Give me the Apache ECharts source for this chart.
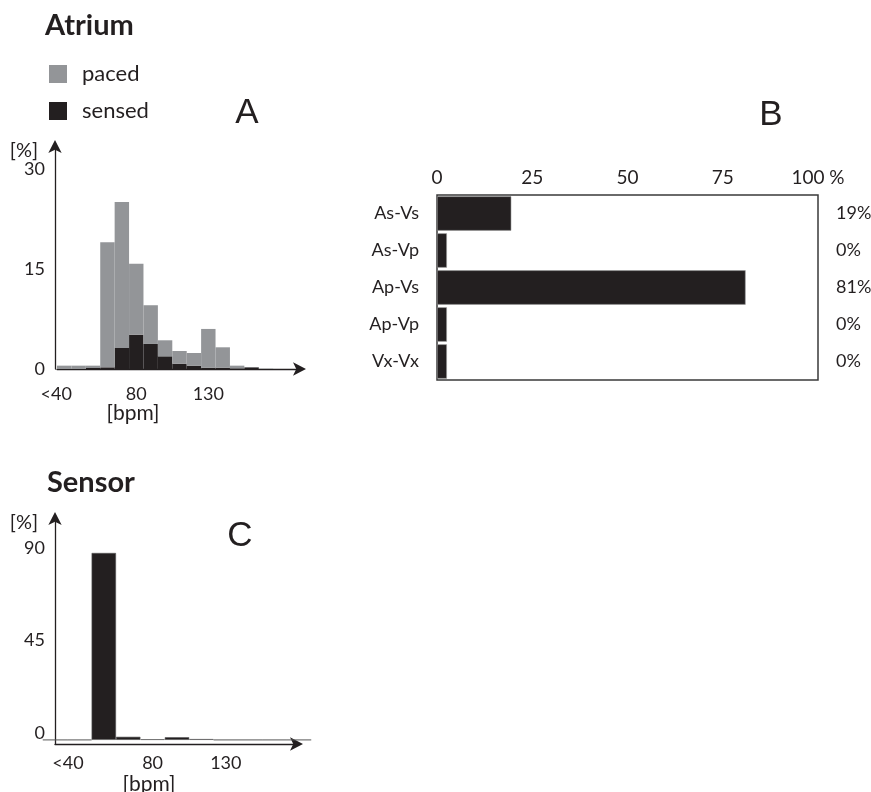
<!doctype html>
<html lang="en">
<head>
<meta charset="UTF-8">
<title>Atrium / Sensor rate histograms</title>
<script src="https://cdn.jsdelivr.net/npm/echarts@6.0.0/dist/echarts.min.js"></script>
<style>
    * {
        margin: 0;
        padding: 0;
    }

    body {
        background: #fff;
    }

    #chart {
        width: 871px;
        height: 792px;
    }
</style>
</head>
<body>
<div id="chart"></div>
<script>
    // A - atrial rate histogram, 10 bpm bins (% of time)
    const atriumBins = ['<40', '40', '50', '60', '70', '80', '90', '100', '110', '120', '130', '140', '150', '160', '170', '180', '190'];
    const atriumSensed = [0, 0, 0.15, 0.25, 3.15, 5.15, 3.75, 1.9, 0.8, 0.5, 0.2, 0.2, 0.1, 0.25, 0, 0, 0];
    const atriumPaced = [0.5, 0.5, 0.35, 18.75, 21.85, 10.6, 5.8, 2.4, 1.9, 1.9, 5.8, 3.05, 0.4, 0.05, 0.05, 0, 0];
    const atriumTicks = [0, 15, 30];

    // B - AV sequence share
    const modes = ['As-Vs', 'As-Vp', 'Ap-Vs', 'Ap-Vp', 'Vx-Vx'];
    const modeShare = [19.5, 2.6, 81, 2.6, 2.6];
    const modeLabels = ['19%', '0%', '81%', '0%', '0%'];

    // C - sensor rate histogram
    const sensorBins = ['<40', '', '', '', '80', '', '', '130', '', '', ''];
    const sensorValues = [0, 0, 91, 1.5, 0.3, 1.3, 0.4, 0, 0, 0, 0];
    const sensorTicks = [0, 45, 90];

    const ink = '#231f20';
    const grey = '#939598';
    const font = 'Lato';

    const arrowLine = {
        show: true,
        onZero: false,
        symbol: ['none', 'arrow'],
        symbolSize: [10, 13],
        symbolOffset: [0, 4],
        lineStyle: {color: ink, width: 1.3}
    };

    const label = function (extra) {
        return Object.assign({color: ink, fontFamily: font, fontSize: 18}, extra);
    };

    const text = function (x, y, str, f, align) {
        return {
            type: 'text', x: x, y: y,
            style: {text: str, font: f, fill: ink, textAlign: align || 'left', textVerticalAlign: 'middle'}
        };
    };

    const chart = echarts.init(document.getElementById('chart'));

    const option = {
        animation: false,
        backgroundColor: '#fff',
        legend: {
            left: 44,
            top: 58,
            orient: 'vertical',
            icon: 'rect',
            itemWidth: 18,
            itemHeight: 18,
            itemGap: 15,
            data: ['paced', 'sensed'],
            textStyle: {color: ink, fontFamily: font, fontSize: 22, padding: [0, 0, 0, 10]}
        },
        graphic: [
            text(45, 26, 'Atrium', 'bold 29px Lato'),
            text(47, 483, 'Sensor', 'bold 29px Lato'),
            text(247, 113, 'A', "35px 'Liberation Sans'", 'center'),
            text(771, 115, 'B', "35px 'Liberation Sans'", 'center'),
            text(240, 536, 'C', "35px 'Liberation Sans'", 'center'),
            text(24, 151, '[%]', '20px Lato', 'center'),
            text(24, 523, '[%]', '20px Lato', 'center'),
            text(133, 413, '[bpm]', '21px Lato', 'center'),
            text(149, 784, '[bpm]', '21px Lato', 'center')
        ],
        grid: [
            {left: 57, top: 144, width: 245, height: 225, outerBoundsMode: 'none'},
            {
                left: 437, top: 195, width: 381, height: 185, outerBoundsMode: 'none',
                show: true, borderColor: '#3a3a3a', borderWidth: 1.5
            },
            {left: 55, top: 516, width: 244, height: 228, outerBoundsMode: 'none'}
        ],
        xAxis: [
            {
                gridIndex: 0,
                type: 'category',
                data: atriumBins,
                axisLine: arrowLine,
                axisTick: {show: false},
                axisLabel: label({
                    margin: 16,
                    interval: function (i) {
                        return i === 0 || i === 5 || i === 10;
                    },
                    formatter: function (v, i) {
                        return i === 0 ? '{f|' + v + '}' : v;
                    },
                    rich: {f: {padding: [0, 16, 0, 0], color: ink, fontFamily: font, fontSize: 18}}
                })
            },
            {
                gridIndex: 1,
                type: 'value',
                position: 'top',
                min: 0,
                max: 100,
                interval: 25,
                axisLine: {show: false},
                axisTick: {show: false},
                splitLine: {show: false},
                axisLabel: label({
                    margin: 8,
                    fontSize: 19,
                    formatter: function (v) {
                        return v === 100 ? '100 %' : v;
                    }
                })
            },
            {
                gridIndex: 2,
                type: 'category',
                boundaryGap: false,
                data: sensorBins,
                axisLine: arrowLine,
                axisTick: {show: false},
                axisLabel: label({
                    margin: 10,
                    interval: 0,
                    formatter: function (v, i) {
                        return i === 0 ? '{f|' + v + '}' : v;
                    },
                    rich: {f: {padding: [0, 0, 0, 26], color: ink, fontFamily: font, fontSize: 18}}
                })
            }
        ],
        yAxis: [
            {
                gridIndex: 0,
                type: 'value',
                min: 0,
                max: 33.7,
                offset: 2,
                axisLine: arrowLine,
                axisTick: {show: false},
                splitLine: {show: false},
                axisLabel: label({margin: 10, customValues: atriumTicks})
            },
            {
                gridIndex: 1,
                type: 'category',
                inverse: true,
                data: modes,
                axisLine: {show: false},
                axisTick: {show: false},
                axisLabel: label({margin: 18})
            },
            {
                gridIndex: 1,
                type: 'category',
                inverse: true,
                position: 'right',
                data: modeLabels,
                axisLine: {show: false},
                axisTick: {show: false},
                axisLabel: label({margin: 18})
            },
            {
                gridIndex: 2,
                type: 'value',
                min: -2,
                max: 109,
                axisLine: arrowLine,
                axisTick: {show: false},
                splitLine: {show: false},
                axisLabel: label({margin: 10, customValues: sensorTicks, verticalAlign: 'bottom', lineHeight: 14})
            }
        ],
        series: [
            {
                name: 'sensed',
                type: 'bar',
                xAxisIndex: 0,
                yAxisIndex: 0,
                stack: 'atrium',
                data: atriumSensed,
                barCategoryGap: '0%',
                itemStyle: {color: ink}
            },
            {
                name: 'paced',
                type: 'bar',
                xAxisIndex: 0,
                yAxisIndex: 0,
                stack: 'atrium',
                data: atriumPaced,
                barCategoryGap: '0%',
                itemStyle: {color: grey}
            },
            {
                type: 'bar',
                xAxisIndex: 1,
                yAxisIndex: 1,
                data: modeShare,
                barCategoryGap: '7%',
                itemStyle: {color: ink, borderColor: '#9a9a9a', borderWidth: 0.6}
            },
            {
                type: 'bar',
                xAxisIndex: 2,
                yAxisIndex: 3,
                data: sensorValues,
                barCategoryGap: '0%',
                itemStyle: {color: ink, borderColor: '#555', borderWidth: 0.6}
            }
        ]
    };

    chart.setOption(option);
</script>
</body>
</html>
